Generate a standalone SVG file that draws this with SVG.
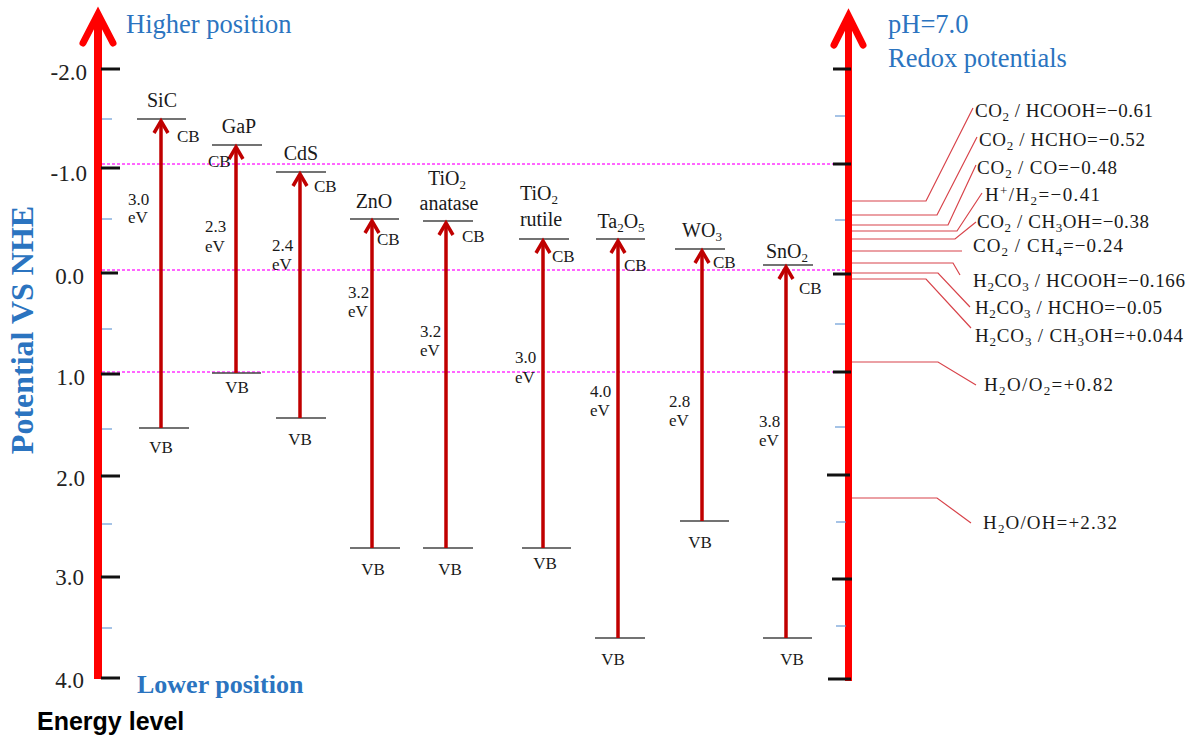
<svg xmlns="http://www.w3.org/2000/svg" width="1189" height="738" viewBox="0 0 1189 738">
<style>
.ser{font-family:"Liberation Serif","Times New Roman",serif;fill:#1a1a1a}
.tick{font-family:"Liberation Serif",serif;font-size:23px;fill:#222;text-anchor:end}
.name{font-size:20px}
.small{font-size:17px}
.mid{text-anchor:middle}
.blue{font-family:"Liberation Serif",serif;fill:#2b74c0}
.axis{stroke:#ff0000;fill:none}
.maj{stroke:#111;stroke-width:3}
.min{stroke:#6a9bd6;stroke-width:1.2}
.mag{stroke:#ff33ff;stroke-width:1.3;stroke-dasharray:3 2}
.band{stroke:#444;stroke-width:1.5}
.arr{stroke:#c00000;stroke-width:3.5;fill:none}
.lead{stroke:#d8434a;stroke-width:1.2;fill:none}
.rl{font-size:19px}
</style>

<g id="guides">
<line class="mag" x1="102" y1="164" x2="846" y2="164"/>
<line class="mag" x1="102" y1="270" x2="846" y2="270"/>
<line class="mag" x1="102" y1="372" x2="846" y2="372"/>
</g>

<g id="left-axis">
<line class="axis" x1="98" y1="16" x2="98" y2="679" stroke-width="8"/>
<polyline class="axis" points="83,43 98,14 113,43" stroke-width="7" stroke-linecap="round"/>
<line class="maj" x1="101" y1="69" x2="120" y2="69"/>
<line class="maj" x1="101" y1="168" x2="120" y2="168"/>
<line class="maj" x1="101" y1="273" x2="118" y2="273"/>
<line class="maj" x1="101" y1="374" x2="120" y2="374"/>
<line class="maj" x1="101" y1="476" x2="120" y2="476"/>
<line class="maj" x1="101" y1="577" x2="120" y2="577"/>
<line class="maj" x1="101" y1="678" x2="120" y2="678"/>
<line class="min" x1="102" y1="119" x2="112" y2="119"/>
<line class="min" x1="102" y1="219" x2="112" y2="219"/>
<line class="min" x1="102" y1="329" x2="112" y2="329"/>
<line class="min" x1="102" y1="429" x2="112" y2="429"/>
<line class="min" x1="102" y1="524" x2="112" y2="524"/>
<line class="min" x1="102" y1="628" x2="112" y2="628"/>
<text class="tick" x="87" y="80">-2.0</text>
<text class="tick" x="87" y="181">-1.0</text>
<text class="tick" x="84" y="284">0.0</text>
<text class="tick" x="85" y="385">1.0</text>
<text class="tick" x="85" y="486">2.0</text>
<text class="tick" x="84" y="585">3.0</text>
<text class="tick" x="84" y="688">4.0</text>
<text class="blue" x="126" y="33" font-size="26.5">Higher position</text>
<text class="blue" x="137" y="693" font-size="26" font-weight="bold">Lower position</text>
<text class="blue" font-size="32" font-weight="bold" text-anchor="middle" transform="translate(33,330) rotate(-90)">Potential  VS  NHE</text>
<text x="37" y="730" font-family="'Liberation Sans',Arial,sans-serif" font-size="25" font-weight="bold" fill="#000">Energy level</text>
</g>

<g id="right-axis">
<line class="axis" x1="848.5" y1="18" x2="848.5" y2="681" stroke-width="7"/>
<polyline class="axis" points="834,45 848.5,16 863,45" stroke-width="7" stroke-linecap="round"/>
<line class="maj" x1="833" y1="69" x2="851" y2="69"/>
<line class="maj" x1="833" y1="164" x2="851" y2="164"/>
<line class="maj" x1="833" y1="274" x2="851" y2="274"/>
<line class="maj" x1="833" y1="372" x2="851" y2="372"/>
<line class="maj" x1="827" y1="475" x2="850" y2="475"/>
<line class="maj" x1="832" y1="579" x2="852" y2="579"/>
<line class="maj" x1="828" y1="679" x2="851" y2="679"/>
<line class="min" x1="835" y1="116" x2="845" y2="116"/>
<line class="min" x1="835" y1="220" x2="845" y2="220"/>
<line class="min" x1="835" y1="324" x2="845" y2="324"/>
<line class="min" x1="835" y1="427" x2="845" y2="427"/>
<line class="min" x1="836" y1="522" x2="846" y2="522"/>
<line class="min" x1="836" y1="626" x2="846" y2="626"/>
<text class="blue" x="888" y="33" font-size="26.5">pH=7.0</text>
<text class="blue" x="888" y="67" font-size="26.5">Redox potentials</text>
</g>

<g id="connectors">
<polyline class="lead" points="852,201 926,201 973,108"/>
<polyline class="lead" points="852,215 937,215 977,137"/>
<polyline class="lead" points="852,225 948,225 976,165"/>
<polyline class="lead" points="852,231 957,231 982,193"/>
<polyline class="lead" points="852,239 955,239 976,222"/>
<polyline class="lead" points="852,251 962,251"/>
<polyline class="lead" points="852,263 953,263 960,275"/>
<polyline class="lead" points="852,273 938,273 970,307"/>
<polyline class="lead" points="852,279 926,279 971,328"/>
<polyline class="lead" points="852,362 938,362 976,385"/>
<polyline class="lead" points="852,498 937,498 971,523"/>
</g>

<g id="redox-labels" class="ser rl">
<text id="r1" x="975" y="117" textLength="178">CO<tspan dy="4" font-size="13">2</tspan><tspan dy="-4"> / HCOOH=−0.61</tspan></text>
<text id="r2" x="979" y="146" textLength="166">CO<tspan dy="4" font-size="13">2</tspan><tspan dy="-4"> / HCHO=−0.52</tspan></text>
<text id="r3" x="977" y="174" textLength="140">CO<tspan dy="4" font-size="13">2</tspan><tspan dy="-4"> / CO=−0.48</tspan></text>
<text id="r4" x="985" y="201" textLength="115">H<tspan dy="-6" font-size="13">+</tspan><tspan dy="6">/H</tspan><tspan dy="4" font-size="13">2</tspan><tspan dy="-4">=−0.41</tspan></text>
<text id="r5" x="977" y="228" textLength="172">CO<tspan dy="4" font-size="13">2</tspan><tspan dy="-4"> / CH</tspan><tspan dy="4" font-size="13">3</tspan><tspan dy="-4">OH=−0.38</tspan></text>
<text id="r6" x="973" y="252" textLength="150">CO<tspan dy="4" font-size="13">2</tspan><tspan dy="-4"> / CH</tspan><tspan dy="4" font-size="13">4</tspan><tspan dy="-4">=−0.24</tspan></text>
<text id="r7" x="973" y="287" textLength="212">H<tspan dy="4" font-size="13">2</tspan><tspan dy="-4">CO</tspan><tspan dy="4" font-size="13">3</tspan><tspan dy="-4"> / HCOOH=−0.166</tspan></text>
<text id="r8" x="975" y="314" textLength="187">H<tspan dy="4" font-size="13">2</tspan><tspan dy="-4">CO</tspan><tspan dy="4" font-size="13">3</tspan><tspan dy="-4"> / HCHO=−0.05</tspan></text>
<text id="r9" x="975" y="342" textLength="208">H<tspan dy="4" font-size="13">2</tspan><tspan dy="-4">CO</tspan><tspan dy="4" font-size="13">3</tspan><tspan dy="-4"> / CH</tspan><tspan dy="4" font-size="13">3</tspan><tspan dy="-4">OH=+0.044</tspan></text>
<text id="r10" x="984" y="391" textLength="129">H<tspan dy="4" font-size="13">2</tspan><tspan dy="-4">O/O</tspan><tspan dy="4" font-size="13">2</tspan><tspan dy="-4">=+0.82</tspan></text>
<text id="r11" x="983" y="529" textLength="134">H<tspan dy="4" font-size="13">2</tspan><tspan dy="-4">O/OH=+2.32</tspan></text>
</g>

<g id="SiC" class="ser">
<line class="band" x1="137" y1="119" x2="186" y2="119"/>
<line class="band" x1="139" y1="428" x2="189" y2="428"/>
<line class="arr" x1="161" y1="428" x2="161" y2="122"/>
<polyline class="arr" points="154,133 161,121 168,133"/>
<text class="name mid" x="162" y="107">SiC</text>
<text class="small" x="177" y="142">CB</text>
<text class="small" x="128" y="205">3.0</text>
<text class="small" x="128" y="223">eV</text>
<text class="small mid" x="161" y="453">VB</text>
</g>

<g id="GaP" class="ser">
<line class="band" x1="212" y1="145" x2="262" y2="145"/>
<line class="band" x1="212" y1="373" x2="261" y2="373"/>
<line class="arr" x1="236" y1="373" x2="236" y2="148"/>
<polyline class="arr" points="229,159 236,147 243,159"/>
<text class="name mid" x="239" y="133">GaP</text>
<text class="small" x="208" y="167">CB</text>
<text class="small" x="205" y="232">2.3</text>
<text class="small" x="205" y="252">eV</text>
<text class="small mid" x="237" y="393">VB</text>
</g>

<g id="CdS" class="ser">
<line class="band" x1="276" y1="172" x2="326" y2="172"/>
<line class="band" x1="276" y1="418" x2="326" y2="418"/>
<line class="arr" x1="300" y1="418" x2="300" y2="175"/>
<polyline class="arr" points="293,186 300,174 307,186"/>
<text class="name mid" x="301" y="160">CdS</text>
<text class="small" x="314" y="192">CB</text>
<text class="small" x="272" y="251">2.4</text>
<text class="small" x="272" y="270">eV</text>
<text class="small mid" x="300" y="445">VB</text>
</g>

<g id="ZnO" class="ser">
<line class="band" x1="350" y1="219" x2="399" y2="219"/>
<line class="band" x1="350" y1="548" x2="400" y2="548"/>
<line class="arr" x1="372" y1="548" x2="372" y2="222"/>
<polyline class="arr" points="365,233 372,221 379,233"/>
<text class="name mid" x="374" y="208">ZnO</text>
<text class="small" x="377" y="245">CB</text>
<text class="small" x="348" y="298">3.2</text>
<text class="small" x="348" y="317">eV</text>
<text class="small mid" x="373" y="575">VB</text>
</g>

<g id="TiO2-anatase" class="ser">
<line class="band" x1="423" y1="221" x2="473" y2="221"/>
<line class="band" x1="423" y1="548" x2="473" y2="548"/>
<line class="arr" x1="446" y1="548" x2="446" y2="224"/>
<polyline class="arr" points="439,235 446,223 453,235"/>
<text class="name mid" x="447" y="185">TiO<tspan dy="4" font-size="13">2</tspan></text>
<text class="name mid" x="449" y="210">anatase</text>
<text class="small" x="462" y="242">CB</text>
<text class="small" x="420" y="337">3.2</text>
<text class="small" x="420" y="356">eV</text>
<text class="small mid" x="450" y="575">VB</text>
</g>

<g id="TiO2-rutile" class="ser">
<line class="band" x1="519" y1="239" x2="569" y2="239"/>
<line class="band" x1="522" y1="548" x2="571" y2="548"/>
<line class="arr" x1="543" y1="548" x2="543" y2="242"/>
<polyline class="arr" points="536,253 543,241 550,253"/>
<text class="name" x="520" y="200">TiO<tspan dy="4" font-size="13">2</tspan></text>
<text class="name mid" x="541" y="226">rutile</text>
<text class="small" x="552" y="262">CB</text>
<text class="small" x="515" y="363">3.0</text>
<text class="small" x="515" y="383">eV</text>
<text class="small mid" x="545" y="569">VB</text>
</g>

<g id="Ta2O5" class="ser">
<line class="band" x1="596" y1="239" x2="645" y2="239"/>
<line class="band" x1="595" y1="638" x2="645" y2="638"/>
<line class="arr" x1="618" y1="638" x2="618" y2="242"/>
<polyline class="arr" points="611,253 618,241 625,253"/>
<text class="name mid" x="621" y="228">Ta<tspan dy="4" font-size="13">2</tspan><tspan dy="-4">O</tspan><tspan dy="4" font-size="13">5</tspan></text>
<text class="small" x="624" y="271">CB</text>
<text class="small" x="590" y="397">4.0</text>
<text class="small" x="590" y="416">eV</text>
<text class="small mid" x="613" y="665">VB</text>
</g>

<g id="WO3" class="ser">
<line class="band" x1="675" y1="249" x2="725" y2="249"/>
<line class="band" x1="680" y1="521" x2="729" y2="521"/>
<line class="arr" x1="702" y1="521" x2="702" y2="252"/>
<polyline class="arr" points="695,263 702,251 709,263"/>
<text class="name mid" x="702" y="237">WO<tspan dy="4" font-size="13">3</tspan></text>
<text class="small" x="713" y="268">CB</text>
<text class="small" x="669" y="407">2.8</text>
<text class="small" x="669" y="426">eV</text>
<text class="small mid" x="700" y="548">VB</text>
</g>

<g id="SnO2" class="ser">
<line class="band" x1="763" y1="265" x2="813" y2="265"/>
<line class="band" x1="763" y1="638" x2="812" y2="638"/>
<line class="arr" x1="786" y1="638" x2="786" y2="268"/>
<polyline class="arr" points="779,279 786,267 793,279"/>
<text class="name mid" x="787" y="258">SnO<tspan dy="4" font-size="13">2</tspan></text>
<text class="small" x="799" y="294">CB</text>
<text class="small" x="759" y="427">3.8</text>
<text class="small" x="759" y="446">eV</text>
<text class="small mid" x="792" y="665">VB</text>
</g>
</svg>
